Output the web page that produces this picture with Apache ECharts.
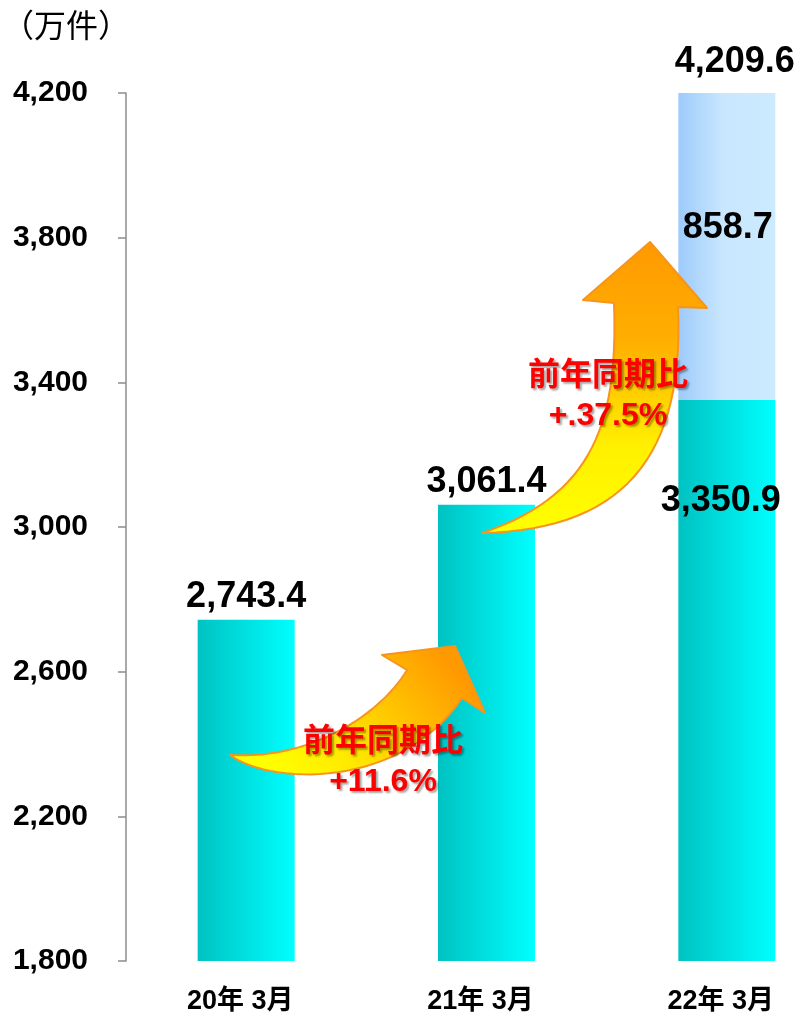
<!DOCTYPE html>
<html>
<head>
<meta charset="utf-8">
<script src="https://cdn.jsdelivr.net/npm/echarts@6/dist/echarts.min.js"></script>
<style>
html,body{margin:0;padding:0;background:#fff;}
#main{width:800px;height:1015px;}
</style>
</head>
<body>
<div id="main"></div>
<script>
// ---- data ----
const categories = ['20年 3月', '21年 3月', '22年 3月'];
const baseValues = [2743.4, 3061.4, 3350.9];
const extraValues = ['-', '-', 858.7];
const yTicks = [1800, 2200, 2600, 3000, 3400, 3800, 4200];
const growthLabels = ['前年同期比\n+11.6%', '前年同期比\n+.37.5%'];

const totals = baseValues.map((v, i) => typeof extraValues[i] === 'number' ? +(v + extraValues[i]).toFixed(1) : v);
const fmt = v => Number(v).toLocaleString('en-US', {minimumFractionDigits: 1, maximumFractionDigits: 1});
const fmtInt = v => Number(v).toLocaleString('en-US');

const NUMFONT = '"Liberation Sans", Arial, "Noto Sans CJK JP", sans-serif';
const chart = echarts.init(document.getElementById('main'), null, {renderer: 'canvas'});

const cyanGrad = new echarts.graphic.LinearGradient(0, 0, 1, 0, [
  {offset: 0, color: '#00C2C2'}, {offset: 1, color: '#00FFFF'}
]);
const blueGrad = new echarts.graphic.LinearGradient(0, 0, 1, 0, [
  {offset: 0, color: '#9DCBFB'}, {offset: 0.45, color: '#C8E6FE'}, {offset: 1, color: '#CCEBFF'}
]);

const valueLabel = {
  show: true, position: 'top', distance: 5,
  fontFamily: NUMFONT, fontWeight: 'bold', fontSize: 36, color: '#000',
  formatter: p => fmt(p.value)
};

const baseData = baseValues.map((v, i) => {
  if (typeof extraValues[i] === 'number') {
    return {value: v, label: {position: 'insideTop', distance: 83, offset: [-6, 0]}};
  }
  return v;
});

const option = {
  animation: false,
  backgroundColor: '#fff',
  title: {
    text: '（万件）', left: 2, top: 9, padding: 0,
    textStyle: {fontFamily: '"Noto Sans CJK JP", sans-serif', fontWeight: 'normal', fontSize: 32, color: '#000'}
  },
  grid: {left: 126, top: 93, width: 721, bottom: 54, containLabel: false, outerBoundsMode: 'none'},
  xAxis: {
    type: 'category', data: categories,
    axisLine: {show: false}, axisTick: {show: false},
    axisLabel: {
      margin: 27, padding: [0, 12, 0, 0],
      fontFamily: NUMFONT, fontWeight: 'bold', fontSize: 27, color: '#000'
    }
  },
  yAxis: {
    type: 'value', min: yTicks[0], max: yTicks[yTicks.length - 1], interval: 400,
    splitLine: {show: false},
    axisLine: {show: true, lineStyle: {color: '#8C8C8C', width: 1.5}},
    axisTick: {show: true, length: 8, lineStyle: {color: '#8C8C8C', width: 1.5}},
    axisLabel: {
      margin: 38, fontFamily: NUMFONT, fontWeight: 'bold', fontSize: 30, color: '#000',
      formatter: v => fmtInt(v)
    }
  },
  series: [
    {
      type: 'bar', stack: 'a', barWidth: 97, data: baseData,
      itemStyle: {color: cyanGrad}, label: valueLabel, z: 2
    },
    {
      type: 'bar', stack: 'a', barWidth: 97, data: extraValues,
      itemStyle: {color: blueGrad},
      label: Object.assign({}, valueLabel, {position: 'inside', offset: [1, -18]}), z: 2
    },
    {
      type: 'bar', stack: 'a', barWidth: 97, clip: false,
      data: extraValues.map(v => typeof v === 'number' ? 0 : '-'),
      itemStyle: {color: 'rgba(0,0,0,0)'},
      label: Object.assign({}, valueLabel, {
        position: 'top', distance: 9, offset: [8, 0],
        formatter: p => fmt(totals[p.dataIndex])
      }), z: 3
    }
  ]
};
chart.setOption(option);

// ---- decorative growth arrows and annotations (pixel-space shapes) ----
function bez(p0, p1, p2, p3, n) {
  const out = [];
  for (let i = 0; i <= n; i++) {
    const t = i / n, u = 1 - t;
    out.push([
      u*u*u*p0[0] + 3*u*u*t*p1[0] + 3*u*t*t*p2[0] + t*t*t*p3[0],
      u*u*u*p0[1] + 3*u*u*t*p1[1] + 3*u*t*t*p2[1] + t*t*t*p3[1]
    ]);
  }
  return out;
}
const arrow1 = [].concat(
  bez([230,755],[270,785],[400,790],[462,698], 30),
  [[485,713],[455,646],[382,655]],
  bez([407,670],[380,715],[310,760],[230,755], 30)
);
const arrow2 = [].concat(
  bez([482,533],[620,530],[685,460],[678,307], 30),
  [[707,308],[650,242],[583,300]],
  bez([614,303],[618,420],[595,495],[482,533], 30)
);
const arrowStroke = {stroke: '#F7941D', lineWidth: 2, lineJoin: 'round'};
const textStyleAnn = {
  fill: '#FF0000', font: 'bold 32px "Liberation Sans", "Noto Sans CJK JP", sans-serif',
  align: 'center', verticalAlign: 'middle', lineHeight: 40,
  textShadowColor: 'rgba(0,0,0,0.35)', textShadowBlur: 2, textShadowOffsetX: 2, textShadowOffsetY: 2
};
chart.setOption({
  graphic: [
    {
      type: 'polygon', z: 10,
      shape: {points: arrow1},
      style: Object.assign({
        fill: new echarts.graphic.LinearGradient(0.2, 1, 0.8, 0, [
          {offset: 0, color: '#FFFF00'}, {offset: 0.35, color: '#FFE600'}, {offset: 1, color: '#FF9900'}
        ])
      }, arrowStroke)
    },
    {
      type: 'polygon', z: 10,
      shape: {points: arrow2},
      style: Object.assign({
        fill: new echarts.graphic.LinearGradient(0, 1, 0, 0, [
          {offset: 0, color: '#FFFF00'}, {offset: 0.3, color: '#FFF000'}, {offset: 0.65, color: '#FFB000'}, {offset: 1, color: '#FF9900'}
        ])
      }, arrowStroke)
    },
    {
      type: 'text', z: 20, x: 383, y: 762,
      style: Object.assign({text: growthLabels[0]}, textStyleAnn)
    },
    {
      type: 'text', z: 20, x: 608, y: 396,
      style: Object.assign({text: growthLabels[1]}, textStyleAnn)
    }
  ]
});
</script>
</body>
</html>
